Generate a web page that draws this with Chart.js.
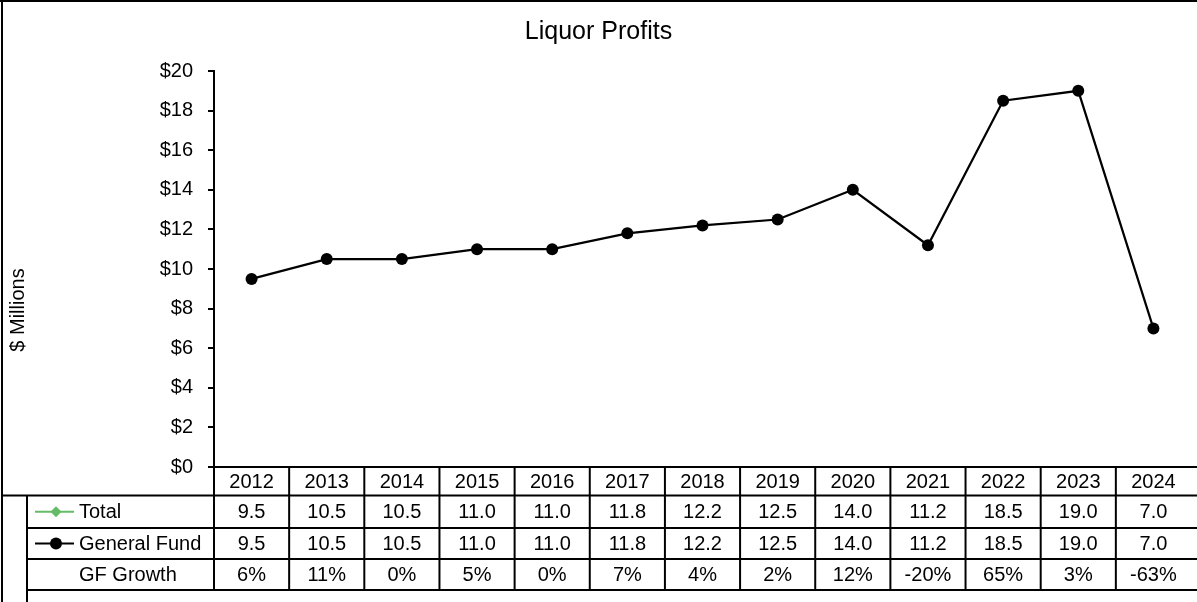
<!DOCTYPE html>
<html>
<head>
<meta charset="utf-8">
<script src="https://cdn.jsdelivr.net/npm/chart.js@4/dist/chart.umd.min.js"></script>
<style>
  html, body { margin: 0; padding: 0; background: #fff; }
  #wrap { width: 1197px; height: 602px; position: relative; }
</style>
</head>
<body>
<div id="wrap"><canvas id="c" width="1197" height="602"></canvas></div>
<script>
const years = ['2012','2013','2014','2015','2016','2017','2018','2019','2020','2021','2022','2023','2024'];
const total = [9.5, 10.5, 10.5, 11.0, 11.0, 11.8, 12.2, 12.5, 14.0, 11.2, 18.5, 19.0, 7.0];
const generalFund = [9.5, 10.5, 10.5, 11.0, 11.0, 11.8, 12.2, 12.5, 14.0, 11.2, 18.5, 19.0, 7.0];
const gfGrowth = [6, 11, 0, 5, 0, 7, 4, 2, 12, -20, 65, 3, -63];
const yTicks = [0, 2, 4, 6, 8, 10, 12, 14, 16, 18, 20];
const yAxisTitle = '$ Millions';

const GREEN = '#66bb66';
const FONT = '"Liberation Sans", Arial, sans-serif';

const tablePlugin = {
  id: 'dataTable',
  afterDraw(chart) {
    const ctx = chart.ctx;
    const xs = chart.scales.x;
    const W = chart.width;
    const n = years.length;
    const centers = years.map((_, i) => xs.getPixelForValue(i));
    const half = (centers[1] - centers[0]) / 2;
    const left = centers[0] - half;
    const right = W;
    const yTop = chart.chartArea.bottom;      // 467
    const rows = [yTop, 495.5, 528, 559, 590];
    ctx.save();
    ctx.strokeStyle = '#000';
    ctx.lineWidth = 2;
    ctx.lineCap = 'butt';
    const line = (x1, y1, x2, y2) => { ctx.beginPath(); ctx.moveTo(x1, y1); ctx.lineTo(x2, y2); ctx.stroke(); };
    // outer chart border (top & left)
    line(0, 1, W, 1);
    line(2, 0, 2, 602);
    // header row top (x-axis line)
    line(left - 1, yTop, right, yTop);
    // row lines
    line(2, rows[1], right, rows[1]);
    line(27, rows[2], right, rows[2]);
    line(27, rows[3], right, rows[3]);
    line(27, rows[4], right, rows[4]);
    // vertical lines
    line(27, rows[1], 27, 602);
    for (let i = 0; i < n; i++) {
      const x = centers[i] - half;
      line(x, yTop, x, rows[4]);
    }
    // text
    ctx.fillStyle = '#000';
    ctx.font = '20px ' + FONT;
    ctx.textAlign = 'center';
    ctx.textBaseline = 'middle';
    const mid = (a, b) => (a + b) / 2 + 1;
    for (let i = 0; i < n; i++) {
      ctx.fillText(years[i], centers[i], mid(rows[0], rows[1]));
      ctx.fillText(total[i].toFixed(1), centers[i], mid(rows[1], rows[2]));
      ctx.fillText(generalFund[i].toFixed(1), centers[i], mid(rows[2], rows[3]));
      ctx.fillText(gfGrowth[i] + '%', centers[i], mid(rows[3], rows[4]));
    }
    // row labels
    ctx.textAlign = 'left';
    ctx.fillText('Total', 79, mid(rows[1], rows[2]));
    ctx.fillText('General Fund', 79, mid(rows[2], rows[3]));
    ctx.fillText('GF Growth', 79, mid(rows[3], rows[4]));
    // legend keys
    const y1 = (rows[1] + rows[2]) / 2;
    ctx.strokeStyle = GREEN;
    ctx.lineWidth = 2;
    line(35, y1, 74, y1);
    ctx.fillStyle = GREEN;
    ctx.beginPath();
    ctx.moveTo(56, y1 - 5.5); ctx.lineTo(61.5, y1); ctx.lineTo(56, y1 + 5.5); ctx.lineTo(50.5, y1);
    ctx.closePath(); ctx.fill();
    const y2 = (rows[2] + rows[3]) / 2;
    ctx.strokeStyle = '#000';
    line(35, y2, 74, y2);
    ctx.fillStyle = '#000';
    ctx.beginPath(); ctx.arc(56, y2, 6, 0, Math.PI * 2); ctx.fill();
    // y axis title
    ctx.save();
    ctx.translate(18, 310);
    ctx.rotate(-Math.PI / 2);
    ctx.textAlign = 'center';
    ctx.textBaseline = 'middle';
    ctx.fillStyle = '#000';
    ctx.font = '20px ' + FONT;
    ctx.fillText(yAxisTitle, 0, 0);
    ctx.restore();
    ctx.restore();
  }
};

new Chart(document.getElementById('c'), {
  type: 'line',
  data: {
    labels: years,
    datasets: [
      {
        label: 'General Fund',
        data: generalFund,
        borderColor: '#000',
        backgroundColor: '#000',
        borderWidth: 2.2,
        pointStyle: 'circle',
        pointRadius: 6,
        pointBorderWidth: 0,
        tension: 0,
        order: 0
      },
      {
        label: 'Total',
        data: total,
        borderColor: GREEN,
        backgroundColor: GREEN,
        borderWidth: 1,
        pointStyle: 'rectRot',
        pointRadius: 4,
        pointBorderWidth: 0,
        tension: 0,
        order: 1
      }
    ]
  },
  options: {
    responsive: false,
    animation: false,
    devicePixelRatio: 1,
    layout: { padding: { left: 0, right: 0, top: 0, bottom: 135 } },
    plugins: {
      legend: { display: false },
      tooltip: { enabled: false },
      title: {
        display: true,
        text: 'Liquor Profits',
        color: '#000',
        font: { family: FONT, size: 25, weight: 'normal', lineHeight: 1.2 },
        padding: { top: 17, bottom: 24 }
      }
    },
    scales: {
      x: {
        type: 'category',
        display: false,
        offset: true
      },
      y: {
        min: 0,
        max: 20,
        afterFit(scale) { scale.width = 214; },
        afterBuildTicks(scale) { scale.ticks = yTicks.map(v => ({ value: v })); },
        ticks: {
          color: '#000',
          padding: 15,
          font: { family: FONT, size: 20 },
          callback: v => '$' + v
        },
        grid: {
          display: true,
          drawOnChartArea: false,
          drawTicks: true,
          tickLength: 6,
          color: '#000',
          lineWidth: 2
        },
        border: { display: true, color: '#000', width: 2 },
        title: { display: false }
      }
    }
  },
  plugins: [tablePlugin]
});
</script>
</body>
</html>
